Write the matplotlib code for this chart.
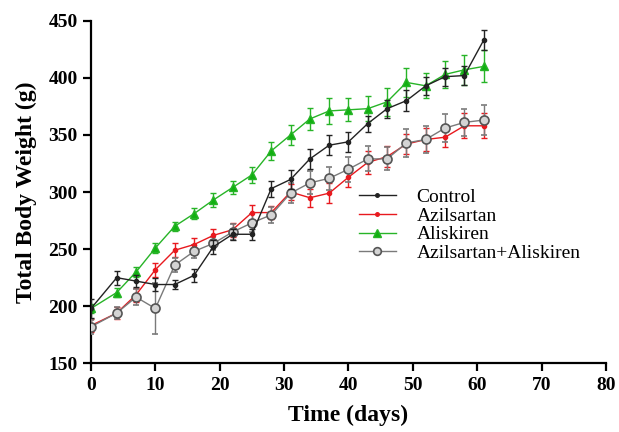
import numpy as np
import matplotlib
matplotlib.use('Agg')
import matplotlib.pyplot as plt

# Font setup - Times-like serif
plt.rcParams['font.family'] = 'Liberation Serif'

# Data
days = [0, 4, 7, 10, 13, 16, 19, 22, 25, 28, 31, 34, 37, 40, 43, 46, 49, 52, 55, 58, 61]

control = [198, 225, 222, 219, 219, 227, 252, 263, 263, 303, 311, 329, 341, 344, 360, 373, 380, 393, 401, 402, 433]
control_err = [8, 6, 5, 6, 4, 6, 6, 5, 5, 7, 8, 9, 9, 9, 7, 8, 9, 8, 8, 8, 9]

azil = [183, 194, 210, 232, 249, 254, 262, 267, 282, 282, 300, 295, 299, 313, 326, 331, 342, 346, 348, 358, 358]
azil_err = [6, 5, 6, 6, 6, 6, 6, 6, 7, 6, 7, 8, 9, 9, 10, 9, 9, 10, 9, 11, 11]

alis = [198, 212, 230, 251, 270, 281, 293, 304, 315, 336, 350, 364, 371, 372, 373, 379, 396, 393, 403, 407, 410]
alis_err = [4, 4, 4, 4, 4, 5, 6, 6, 7, 8, 9, 10, 11, 10, 11, 12, 13, 11, 12, 13, 14]

combo = [182, 194, 208, 198, 236, 248, 255, 265, 273, 280, 299, 308, 312, 320, 329, 329, 343, 346, 356, 361, 363]
combo_err = [6, 5, 7, 22, 6, 6, 6, 7, 8, 7, 9, 10, 10, 11, 11, 10, 12, 12, 12, 12, 13]

labels = ['Control', 'Azilsartan', 'Aliskiren', 'Azilsartan+Aliskiren']

fig = plt.figure(figsize=(6.19, 4.32), dpi=100)
ax = fig.add_axes([0.147, 0.159, 0.832, 0.793])

#Plot each group with error bars
e1 = ax.errorbar(days, control, yerr=control_err, color='#222222', marker='o', markersize=3,
                 linewidth=1, elinewidth=1, capsize=2.5, zorder=4)
e2 = ax.errorbar(days, azil, yerr=azil_err, color='#e8191e', marker='o', markersize=3,
                 linewidth=1, elinewidth=1, capsize=2.5, zorder=3)
e3 = ax.errorbar(days, alis, yerr=alis_err, color='#27b427', marker='^', markersize=6,
                 markerfacecolor='#10b010', linewidth=1, elinewidth=1, capsize=2.5, zorder=2)
e4 = ax.errorbar(days, combo, yerr=combo_err, color='#7a7a7a', marker='o', markersize=6.5,
                 markerfacecolor='#d4d4d4', markeredgecolor='#555555', markeredgewidth=1.2,
                 linewidth=1, elinewidth=1, capsize=2.5, zorder=3)

#Axes styling
ax.set_xlim(0, 80)
ax.set_ylim(150, 450)
ax.set_xticks(np.arange(0, 81, 10))
ax.set_yticks(np.arange(150, 451, 50))
ax.spines['top'].set_visible(False)
ax.spines['right'].set_visible(False)
ax.spines['left'].set_linewidth(1.6)
ax.spines['bottom'].set_linewidth(1.6)
ax.tick_params(width=1.6, length=6, labelsize=14)
for t in ax.get_xticklabels() + ax.get_yticklabels():
    t.set_fontweight('bold')

#Labelling
ax.set_xlabel('Time (days)', fontsize=17, fontweight='bold', labelpad=8)
ax.set_ylabel('Total Body Weight (g)', fontsize=17, fontweight='bold', labelpad=8)

#Legend uses only the line+marker part of each errorbar
handles = [e1[0], e2[0], e3[0], e4[0]]
leg = ax.legend(handles, labels, loc='upper left', bbox_to_anchor=(0.52, 0.51), frameon=False,
                fontsize=14, handlelength=1.9, labelspacing=0.05, borderpad=0,
                borderaxespad=0, handletextpad=1.08, markerscale=0.85)

plt.savefig('out.png', dpi=100)
